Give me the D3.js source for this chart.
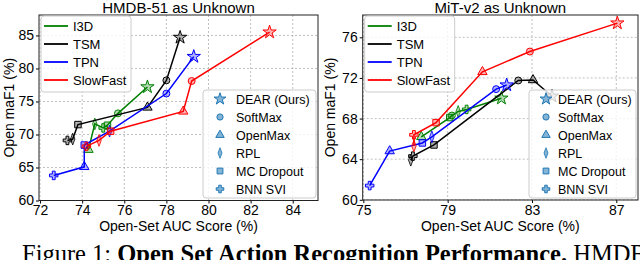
<!DOCTYPE html>
<html>
<head>
<meta charset="utf-8">
<script src="https://cdn.jsdelivr.net/npm/d3@7"></script>
<style>
  body { margin: 0; background: #fff; }
  svg { display: block; }
  .lbl { font-family: "Liberation Sans", Arial, sans-serif; }
  .cap { font-family: "Liberation Serif", "Times New Roman", serif; }
</style>
</head>
<body>
<div id="chart"></div>
<script>
// [auc, maF1, method]
var hmdbI3D      = [[74.3, 67.7, 'OpenMax'], [74.6, 71.6, 'RPL'], [75.0, 71.0, 'BNN SVI'], [75.2, 71.4, 'MC Dropout'], [75.7, 73.2, 'SoftMax'], [77.1, 77.2, 'DEAR (Ours)']];
var hmdbTSM      = [[73.3, 69.1, 'BNN SVI'], [73.55, 69.3, 'RPL'], [73.8, 71.5, 'MC Dropout'], [77.1, 74.1, 'OpenMax'], [78.0, 78.2, 'SoftMax'], [78.65, 84.7, 'DEAR (Ours)']];
var hmdbTPN      = [[72.65, 63.8, 'BNN SVI'], [74.1, 65.1, 'OpenMax'], [74.1, 68.4, 'MC Dropout'], [75.3, 70.5, 'RPL'], [78.0, 76.2, 'SoftMax'], [79.3, 81.8, 'DEAR (Ours)']];
var hmdbSlowFast = [[74.2, 68.2, 'BNN SVI'], [74.8, 69.1, 'RPL'], [75.35, 70.5, 'MC Dropout'], [78.8, 73.5, 'OpenMax'], [79.2, 78.1, 'SoftMax'], [82.9, 85.5, 'DEAR (Ours)']];

var mitI3D      = [[77.75, 66.2, 'OpenMax'], [79.1, 68.1, 'MC Dropout'], [79.2, 68.3, 'SoftMax'], [79.5, 68.7, 'RPL'], [79.9, 68.9, 'BNN SVI'], [81.55, 70.0, 'DEAR (Ours)']];
var mitTSM      = [[77.25, 63.9, 'RPL'], [77.35, 64.3, 'BNN SVI'], [78.35, 65.4, 'MC Dropout'], [82.35, 71.75, 'SoftMax'], [83.05, 71.8, 'OpenMax'], [83.95, 70.2, 'DEAR (Ours)']];
var mitTPN      = [[75.3, 61.4, 'BNN SVI'], [76.25, 64.8, 'OpenMax'], [77.8, 65.6, 'MC Dropout'], [78.25, 66.2, 'RPL'], [81.3, 70.9, 'SoftMax'], [81.8, 71.3, 'DEAR (Ours)']];
var mitSlowFast = [[77.4, 65.3, 'RPL'], [77.4, 66.4, 'BNN SVI'], [78.45, 67.6, 'MC Dropout'], [80.65, 72.6, 'OpenMax'], [82.9, 74.6, 'SoftMax'], [87.05, 77.4, 'DEAR (Ours)']];

var models  = ['I3D', 'TSM', 'TPN', 'SlowFast'];
var methods = ['DEAR (Ours)', 'SoftMax', 'OpenMax', 'RPL', 'MC Dropout', 'BNN SVI'];

var hmdbXTicks = [72, 74, 76, 78, 80, 82, 84];
var hmdbYTicks = [60, 65, 70, 75, 80, 85];
var mitXTicks  = [75, 79, 83, 87];
var mitYTicks  = [60, 64, 68, 72, 76];

var colors = { 'I3D': 'green', 'TSM': 'black', 'TPN': '#0000ff', 'SlowFast': '#ff0000' };
var symbols = {
  'DEAR (Ours)': [d3.symbolStar, 55],
  'SoftMax': [d3.symbolCircle, 38],
  'OpenMax': [d3.symbolTriangle, 38],
  'RPL': [d3.symbolDiamond, 40],
  'MC Dropout': [d3.symbolSquare, 42],
  'BNN SVI': [d3.symbolCross, 40]
};

var svg = d3.select('#chart').append('svg')
  .attr('width', 640)
  .attr('height', 260);

function marker(sel, method, color, scale, fop) {
  var s = symbols[method];
  sel.append('path')
    .attr('d', d3.symbol().type(s[0]).size(s[1] * (scale || 1))())
    .attr('transform', method == 'RPL' ? 'scale(0.65,1)' : null)
    .attr('fill', color)
    .attr('fill-opacity', fop || 0.3)
    .attr('stroke', color)
    .attr('stroke-width', 1);
}

function panel(opt) {
  var x = d3.scaleLinear().domain(opt.xd).range([opt.left, opt.right]);
  var y = d3.scaleLinear().domain(opt.yd).range([opt.bottom, opt.top]);
  var g = svg.append('g').attr('class', 'lbl');

  // grid
  g.selectAll('.gx').data(opt.xt).enter().append('line')
    .attr('x1', d => x(d)).attr('x2', d => x(d))
    .attr('y1', opt.top).attr('y2', opt.bottom)
    .attr('stroke', '#b0b0b0').attr('stroke-dasharray', '2,2').attr('stroke-width', 0.8);
  g.selectAll('.gy').data(opt.yt).enter().append('line')
    .attr('y1', d => y(d)).attr('y2', d => y(d))
    .attr('x1', opt.left).attr('x2', opt.right)
    .attr('stroke', '#b0b0b0').attr('stroke-dasharray', '2,2').attr('stroke-width', 0.8);

  // axes
  var xa = g.append('g').attr('transform', 'translate(0,' + opt.bottom + ')')
    .call(d3.axisBottom(x).tickValues(opt.xt).tickSize(3).tickPadding(2));
  var ya = g.append('g').attr('transform', 'translate(' + opt.left + ',0)')
    .call(d3.axisLeft(y).tickValues(opt.yt).tickSize(3).tickPadding(2));
  [xa, ya].forEach(function(a) {
    a.select('.domain').remove();
    a.attr('font-family', null);
    a.selectAll('text').attr('font-size', 14).attr('fill', '#000');
  });

  // series
  opt.series.forEach(function(data, i) {
    var c = colors[models[i]];
    g.append('path')
      .datum(data)
      .attr('d', d3.line().x(d => x(d[0])).y(d => y(d[1])))
      .attr('fill', 'none')
      .attr('stroke', c)
      .attr('stroke-width', 1.5);
    data.forEach(function(d) {
      var m = g.append('g').attr('transform', 'translate(' + x(d[0]) + ',' + y(d[1]) + ')');
      marker(m, d[2], c);
    });
  });

  // frame
  g.append('rect')
    .attr('x', opt.left).attr('y', opt.top)
    .attr('width', opt.right - opt.left).attr('height', opt.bottom - opt.top)
    .attr('fill', 'none').attr('stroke', '#222').attr('stroke-width', 1);

  // line legend
  var l1 = g.append('g').attr('transform', 'translate(' + (opt.left + 2) + ',' + (opt.top + 1) + ')');
  l1.append('rect').attr('width', 90).attr('height', 76).attr('rx', 3)
    .attr('fill', '#fff').attr('fill-opacity', 0.8).attr('stroke', '#ccc');
  models.forEach(function(m, i) {
    var yy = 10 + i * 18;
    l1.append('line').attr('x1', 3).attr('x2', 27).attr('y1', yy).attr('y2', yy)
      .attr('stroke', colors[m]).attr('stroke-width', 1.8);
    l1.append('text').attr('x', 32).attr('y', yy + 5).attr('font-size', 13).text(m);
  });

  // marker legend
  var l2 = g.append('g').attr('transform', 'translate(' + opt.legX + ',' + (opt.top + 75) + ')');
  l2.append('rect').attr('width', opt.right - opt.legX - 2).attr('height', 108).attr('rx', 3)
    .attr('fill', '#fff').attr('fill-opacity', 0.8).attr('stroke', '#ccc');
  methods.forEach(function(m, i) {
    var yy = 9 + i * 18;
    var mg = l2.append('g').attr('transform', 'translate(17,' + yy + ')');
    marker(mg, m, '#1f77b4', 0.8, 0.55);
    l2.append('text').attr('x', opt.legTx).attr('y', yy + 4.5).attr('font-size', 12.5).text(m);
  });

  // titles
  g.append('text')
    .attr('x', (opt.left + opt.right) / 2).attr('y', 13)
    .attr('text-anchor', 'middle').attr('font-size', 15).text(opt.title);
  g.append('text')
    .attr('x', (opt.left + opt.right) / 2).attr('y', 231)
    .attr('text-anchor', 'middle').attr('font-size', 14).text('Open-Set AUC Score (%)');
  g.append('text')
    .attr('transform', 'translate(' + (opt.left - opt.ylOff) + ',' + ((opt.top + opt.bottom) / 2) + ') rotate(-90)')
    .attr('text-anchor', 'middle').attr('font-size', 14).text('Open maF1 (%)');
}

panel({
  title: 'HMDB-51 as Unknown',
  xd: [71.95, 85.2], yd: [60, 88.1],
  left: 39, right: 318, top: 15, bottom: 200.5,
  xt: hmdbXTicks, yt: hmdbYTicks,
  series: [hmdbI3D, hmdbTSM, hmdbTPN, hmdbSlowFast],
  legX: 203, legTx: 33, ylOff: 25
});

panel({
  title: 'MiT-v2 as Unknown',
  xd: [74.97, 88.03], yd: [59.98, 78.2],
  left: 362.7, right: 638, top: 15, bottom: 200,
  xt: mitXTicks, yt: mitYTicks,
  series: [mitI3D, mitTSM, mitTPN, mitSlowFast],
  legX: 529, legTx: 29, ylOff: 28
});

// caption
var cap = svg.append('text')
  .attr('class', 'cap')
  .attr('x', 22).attr('y', 262)
  .attr('font-size', 24.5);
cap.append('tspan').text('Figure 1: ');
cap.append('tspan').attr('font-weight', 'bold').text('Open Set Action Recognition Performance.');
cap.append('tspan').text(' HMDB');
</script>
</body>
</html>
